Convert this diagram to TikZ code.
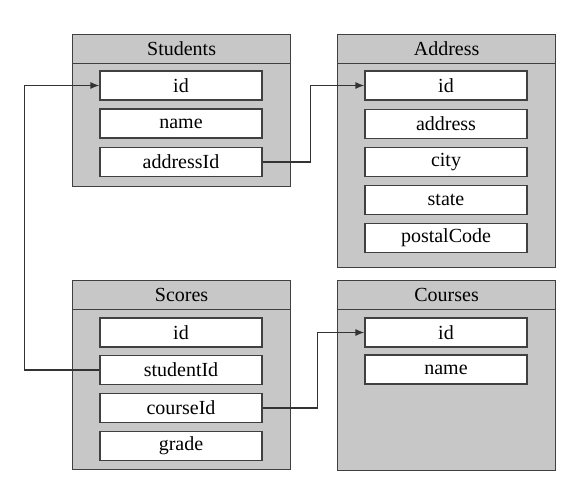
\documentclass[tikz,border=0pt]{standalone}
\usepackage{fontspec}
\setmainfont{Liberation Serif}
\usetikzlibrary{arrows.meta}

\tikzset{
  tbl/.style={draw=black!75, fill=black!22, line width=1.2pt, anchor=north west,
    minimum width=218pt, inner sep=0pt},
  hdr/.style={tbl, minimum height=29pt, font=\fontsize{20}{22}\selectfont},
  fld/.style={draw=black!75, fill=white, line width=1.2pt, minimum width=162pt,
    minimum height=29pt, inner sep=0pt, font=\fontsize{20}{22}\selectfont},
  conn/.style={draw=black!80, line width=1.2pt, -{Latex[length=9pt,width=7pt]}}
}

\begin{document}
\begin{tikzpicture}[x=1pt,y=-1pt]
\useasboundingbox (0,0) rectangle (576,490);
% tables
\node [tbl, minimum height=152pt] (students) at (72,34) {};
\node [hdr] (studentsh) at (72,34) {Students};
\node [tbl, minimum height=233pt] (address) at (337,34) {};
\node [hdr] (addressh) at (337,34) {Address};
\node [tbl, minimum height=189pt] (scores) at (72,280) {};
\node [hdr] (scoresh) at (72,280) {Scores};
\node [tbl, minimum height=190pt] (courses) at (337,280) {};
\node [hdr] (coursesh) at (337,280) {Courses};
% fields
\node [fld] (sid) at (181,85.5) {id};
\node [fld] (sname) at (181,123.5) {name};
\node [fld] (saddr) at (181,162) {addressId};
\node [fld] (aid) at (446,85.5) {id};
\node [fld] (aaddr) at (446,124) {address};
\node [fld] (acity) at (446,162) {city};
\node [fld] (astate) at (446,200) {state};
\node [fld] (acode) at (446,238) {postalCode};
\node [fld] (scid) at (181,332.5) {id};
\node [fld] (scstud) at (181,370) {studentId};
\node [fld] (sccourse) at (181,408) {courseId};
\node [fld] (scgrade) at (181,446) {grade};
\node [fld] (cid) at (446,332.5) {id};
\node [fld] (cname) at (446,369.5) {name};
% links
\draw [conn] (saddr.east) -- ++(48,0) |- (aid.west);
\draw [conn] (scstud.west) -- ++(-75,0) |- (sid.west);
\draw [conn] (sccourse.east) -- ++(55,0) |- (cid.west);
\end{tikzpicture}
\end{document}
